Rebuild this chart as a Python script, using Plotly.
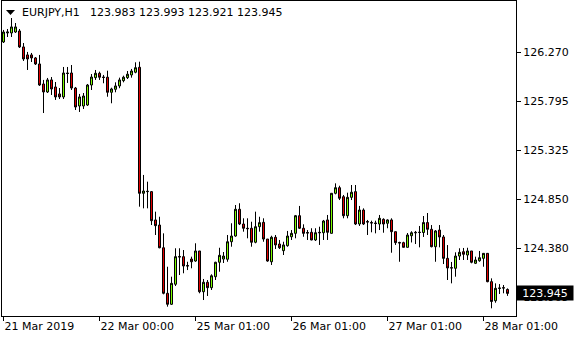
import plotly.graph_objects as go

symbol_text = "EURJPY,H1"
header_ohlc = "123.983 123.993 123.921 123.945"
last_price = 123.945

opens = [126.369, 126.456, 126.456, 126.465, 126.475, 126.321, 126.244, 126.244, 126.215, 126.157,
         125.964, 125.887, 126.003, 125.935, 125.868, 125.839, 126.070, 126.070, 125.925, 125.752,
         125.752, 125.761, 125.954, 126.025, 126.067, 126.031, 126.029, 125.884, 125.913, 125.945,
         125.996, 126.025, 126.051, 126.077, 126.125, 124.910, 124.926, 124.926, 124.653, 124.604,
         124.385, 123.946, 123.840, 124.033, 124.301, 124.299, 124.214, 124.276, 124.257, 124.354,
         123.961, 124.052, 124.000, 124.106, 124.245, 124.276, 124.274, 124.443, 124.498, 124.756,
         124.614, 124.573, 124.573, 124.438, 124.588, 124.630, 124.469, 124.250, 124.486, 124.421,
         124.357, 124.405, 124.491, 124.524, 124.694, 124.573, 124.532, 124.534, 124.460, 124.534,
         124.530, 124.653, 124.524, 124.910, 124.964, 124.877, 124.694, 124.871, 124.926, 124.614,
         124.749, 124.638, 124.628, 124.624, 124.614, 124.659, 124.621, 124.653, 124.540, 124.436,
         124.434, 124.389, 124.501, 124.534, 124.532, 124.532, 124.628, 124.563, 124.395, 124.556,
         124.489, 124.283, 124.193, 124.187, 124.305, 124.347, 124.315, 124.354, 124.235, 124.260,
         124.283, 124.331, 124.058, 123.874, 123.992, 124.000, 123.983]

highs = [126.485, 126.494, 126.600, 126.552, 126.494, 126.359, 126.273, 126.263, 126.224, 126.244,
         126.003, 126.022, 126.031, 125.983, 125.925, 126.128, 126.128, 126.147, 125.935, 125.868,
         125.877, 125.964, 126.060, 126.099, 126.083, 126.051, 126.092, 125.928, 125.980, 126.025,
         126.044, 126.089, 126.109, 126.173, 126.179, 125.087, 125.022, 124.932, 124.733, 124.684,
         124.524, 124.202, 124.106, 124.380, 124.380, 124.363, 124.250, 124.299, 124.428, 124.354,
         124.084, 124.074, 124.129, 124.250, 124.385, 124.344, 124.508, 124.621, 124.797, 124.814,
         124.669, 124.669, 124.636, 124.733, 124.684, 124.669, 124.469, 124.501, 124.508, 124.460,
         124.443, 124.547, 124.556, 124.701, 124.788, 124.611, 124.556, 124.573, 124.573, 124.588,
         124.653, 124.701, 124.913, 125.006, 124.983, 124.894, 124.916, 124.990, 124.990, 124.788,
         124.765, 124.653, 124.646, 124.646, 124.701, 124.669, 124.659, 124.669, 124.540, 124.443,
         124.443, 124.527, 124.544, 124.547, 124.595, 124.691, 124.720, 124.604, 124.556, 124.604,
         124.508, 124.411, 124.248, 124.341, 124.380, 124.383, 124.385, 124.354, 124.299, 124.354,
         124.334, 124.334, 124.090, 124.042, 124.035, 124.026, 123.993]

lows = [126.359, 126.417, 126.417, 126.456, 126.311, 126.186, 126.099, 126.176, 126.147, 125.945,
        125.684, 125.877, 125.858, 125.810, 125.819, 125.819, 125.974, 125.906, 125.713, 125.694,
        125.723, 125.752, 125.906, 126.003, 126.003, 125.971, 125.841, 125.778, 125.884, 125.923,
        125.980, 126.012, 126.025, 126.067, 124.781, 124.765, 124.765, 124.604, 124.508, 124.380,
        123.936, 123.817, 123.833, 124.016, 124.122, 124.139, 124.170, 124.187, 124.250, 123.946,
        123.881, 123.920, 123.978, 124.074, 124.154, 124.238, 124.250, 124.395, 124.491, 124.604,
        124.540, 124.476, 124.395, 124.428, 124.540, 124.443, 124.250, 124.219, 124.373, 124.373,
        124.315, 124.395, 124.460, 124.476, 124.566, 124.491, 124.460, 124.457, 124.450, 124.412,
        124.460, 124.460, 124.522, 124.900, 124.845, 124.669, 124.669, 124.845, 124.604, 124.595,
        124.604, 124.508, 124.534, 124.524, 124.556, 124.530, 124.573, 124.337, 124.412, 124.250,
        124.387, 124.387, 124.436, 124.421, 124.389, 124.489, 124.508, 124.389, 124.250, 124.389,
        124.228, 124.074, 124.042, 124.106, 124.267, 124.267, 124.267, 124.235, 124.228, 124.250,
        124.202, 124.052, 123.801, 123.855, 123.939, 123.946, 123.921]

closes = [126.465, 126.465, 126.514, 126.514, 126.321, 126.205, 126.205, 126.215, 126.157, 125.954,
          125.887, 126.003, 125.916, 125.839, 125.839, 126.070, 126.065, 125.925, 125.742, 125.839,
          125.848, 125.954, 126.031, 126.067, 126.029, 126.027, 125.884, 125.916, 125.945, 126.003,
          126.029, 126.058, 126.089, 126.121, 124.910, 124.932, 124.929, 124.646, 124.598, 124.385,
          123.946, 123.840, 124.042, 124.299, 124.296, 124.209, 124.209, 124.250, 124.354, 123.961,
          124.052, 124.000, 124.115, 124.245, 124.312, 124.305, 124.443, 124.498, 124.756, 124.614,
          124.573, 124.569, 124.438, 124.588, 124.627, 124.469, 124.257, 124.486, 124.412, 124.385,
          124.412, 124.498, 124.524, 124.694, 124.573, 124.524, 124.527, 124.460, 124.530, 124.530,
          124.643, 124.534, 124.910, 124.964, 124.862, 124.694, 124.871, 124.920, 124.614, 124.749,
          124.614, 124.633, 124.624, 124.619, 124.669, 124.614, 124.653, 124.540, 124.434, 124.431,
          124.389, 124.508, 124.530, 124.530, 124.534, 124.628, 124.563, 124.395, 124.547, 124.489,
          124.283, 124.190, 124.190, 124.305, 124.341, 124.322, 124.354, 124.245, 124.267, 124.289,
          124.331, 124.058, 123.867, 123.994, 123.997, 123.997, 123.945]

bar_index = list(range(len(opens)))

time_tick_bars = [0, 24, 48, 72, 96, 120]
time_tick_labels = ["21 Mar 2019", "22 Mar 00:00", "25 Mar 01:00", "26 Mar 01:00",
                    "27 Mar 01:00", "28 Mar 01:00"]

price_ticks = [126.270, 125.795, 125.325, 124.850, 124.380, 123.905]
price_tick_labels = ["126.270", "125.795", "125.325", "124.850", "124.380", "123.905"]

FONT = "DejaVu Sans"
BULL = "#7CFC00"
BEAR = "#E00000"

fig = go.Figure(go.Candlestick(
    x=bar_index, open=opens, high=highs, low=lows, close=closes,
    increasing=dict(fillcolor=BULL, line=dict(color="black", width=1)),
    decreasing=dict(fillcolor=BEAR, line=dict(color="black", width=1)),
    whiskerwidth=0, hoverinfo="skip",
))

fig.update_layout(
    width=580, height=340,
    margin=dict(l=2, r=64, t=1, b=24),
    paper_bgcolor="white", plot_bgcolor="white",
    showlegend=False,
    boxgap=0.5, boxgroupgap=0,
    font=dict(family=FONT, size=11, color="black"),
)
fig.update_xaxes(
    range=[-0.375, 128.125], rangeslider_visible=False,
    tickvals=time_tick_bars, ticktext=time_tick_labels,
    ticks="outside", ticklen=4, tickcolor="black", tickwidth=1,
    ticklabelposition="outside right",
    showline=True, linecolor="black", linewidth=1, mirror=True,
    showgrid=False, zeroline=False,
    tickfont=dict(family=FONT, size=11, color="black"),
)
fig.update_yaxes(
    range=[123.727, 126.764], side="right",
    tickvals=price_ticks, ticktext=price_tick_labels,
    ticks="outside", ticklen=4, tickcolor="black", tickwidth=1,
    showline=True, linecolor="black", linewidth=1, mirror=True,
    showgrid=False, zeroline=False,
    tickfont=dict(family=FONT, size=11, color="black"),
)

# header: drop-down triangle + symbol + OHLC of last bar
fig.add_shape(type="path", xref="paper", yref="paper", xsizemode="pixel", ysizemode="pixel",
              xanchor=0, yanchor=1, path="M4,-9 L13,-9 L8.5,-14 Z",
              fillcolor="black", line=dict(width=0))
fig.add_annotation(xref="paper", yref="paper", x=0, y=1, xanchor="left", yanchor="middle",
                   xshift=19, yshift=-11, text=symbol_text, showarrow=False, borderpad=0,
                   font=dict(family=FONT, size=11, color="black"))
fig.add_annotation(xref="paper", yref="paper", x=0, y=1, xanchor="left", yanchor="middle",
                   xshift=87, yshift=-11, text=header_ohlc, showarrow=False, borderpad=0,
                   font=dict(family=FONT, size=11, color="black"))

# current price tag (covers the lowest price tick label, as in the reference)
fig.add_annotation(xref="paper", yref="y", x=1, y=last_price, xanchor="left", yanchor="middle",
                   text=f"{last_price:.3f}", showarrow=False, bgcolor="black",
                   width=56, height=14, borderpad=0, align="center",
                   font=dict(family=FONT, size=11, color="white"))

fig.write_html("out.html")
